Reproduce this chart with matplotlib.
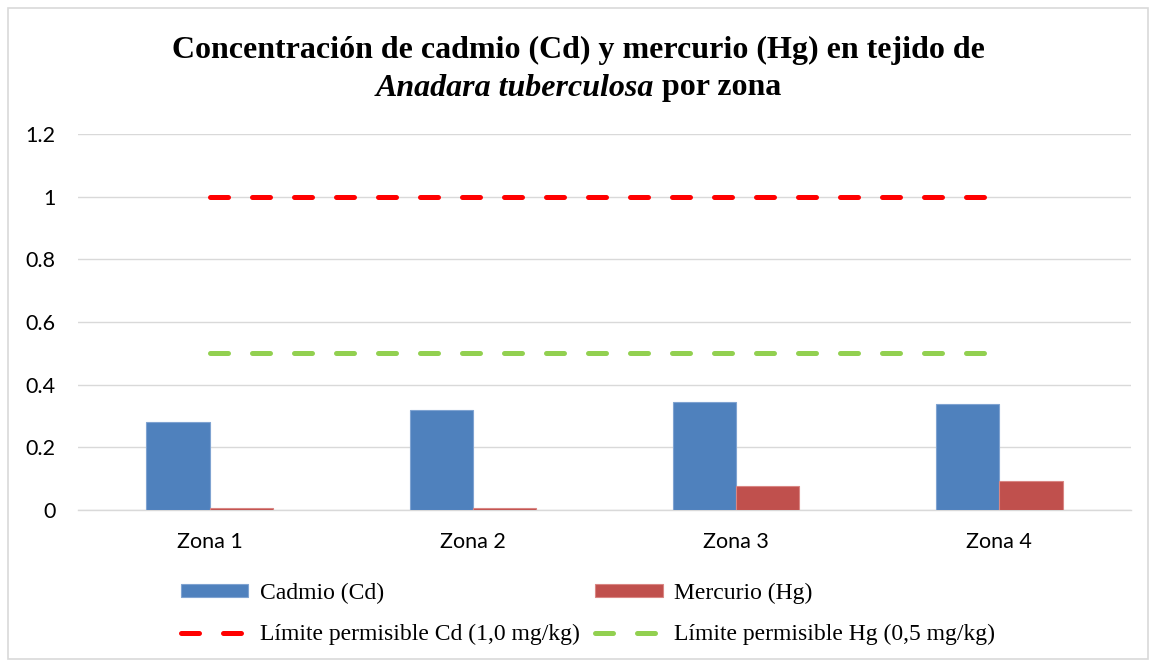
import numpy as np
import matplotlib
matplotlib.use('Agg')
import matplotlib.pyplot as plt
from matplotlib.patches import Rectangle

# data
zonas = ['Zona 1', 'Zona 2', 'Zona 3', 'Zona 4']
cadmio = [0.281, 0.320, 0.345, 0.339]
mercurio = [0.005, 0.005, 0.077, 0.093]
limite_cd = [1.0, 1.0, 1.0, 1.0]
limite_hg = [0.5, 0.5, 0.5, 0.5]
y_ticks = [0, 0.2, 0.4, 0.6, 0.8, 1, 1.2]
y_tick_labels = ['0', '0.2', '0.4', '0.6', '0.8', '1', '1.2']

W, H = 1157, 665
fig = plt.figure(figsize=(W / 100, H / 100), dpi=100)
ax = fig.add_axes([78 / W, 1 - 510 / H, (1131 - 78) / W, (510 - 134) / H])

x = np.arange(len(zonas))
bw = 0.24
ax.bar(x - bw / 2, cadmio, bw, color='#4f81bd', edgecolor='#7fa3d1', linewidth=0.8,
       label='Cadmio (Cd)', zorder=3)
ax.bar(x + bw / 2, mercurio, bw, color='#c0504d', edgecolor='#d98683', linewidth=0.8,
       label='Mercurio (Hg)', zorder=3)

lw = 3.6
l_cd, = ax.plot(x, limite_cd, color='#ff0000', lw=lw, dashes=(3.6, 4.8),
                dash_capstyle='round', label='Límite permisible Cd (1,0 mg/kg)', zorder=4)
l_hg, = ax.plot(x, limite_hg, color='#92d050', lw=lw, dashes=(3.6, 4.8),
                dash_capstyle='round', label='Límite permisible Hg (0,5 mg/kg)', zorder=4)

ax.set_xlim(-0.5, 3.5)
ax.set_ylim(0, 1.2)
ax.set_yticks(y_ticks)
ax.set_yticklabels(y_tick_labels)
ax.set_xticks(x)
ax.set_xticklabels(zonas)
ax.grid(axis='y', color='#d9d9d9', lw=1.0, zorder=0)
for s in ['top', 'right', 'left']:
    ax.spines[s].set_visible(False)
ax.spines['bottom'].set_color('#d9d9d9')
ax.spines['bottom'].set_linewidth(1.0)
ax.tick_params(length=0, labelsize=15.5, colors='black')
ax.tick_params(axis='y', pad=16)
ax.tick_params(axis='x', pad=16)
for t in ax.get_xticklabels() + ax.get_yticklabels():
    t.set_family('Lato')

# legend, two rows
h, l = ax.get_legend_handles_labels()
order = [2, 0, 3, 1]
h = [h[i] for i in order]
l = [l[i] for i in order]
leg = fig.legend(h, l, ncol=2, loc='center left', bbox_to_anchor=(181 / W, 1 - 614 / H),
                 frameon=False, borderpad=0, borderaxespad=0,
                 prop={'family': 'Liberation Serif', 'size': 17},
                 handlelength=2.85, handleheight=0.5, handletextpad=0.5,
                 columnspacing=0.65, labelspacing=0.85)

# title, second line mixes italic and roman
fig.text(0.5, 1 - 50 / H, 'Concentración de cadmio (Cd) y mercurio (Hg) en tejido de',
         ha='center', va='center', family='Liberation Serif', weight='bold', size=23)
t1 = fig.text(0.5, 1 - 88 / H, 'Anadara tuberculosa', ha='left', va='center',
              family='Liberation Serif', weight='bold', style='italic', size=23)
t2 = fig.text(0.5, 1 - 88 / H, ' por zona', ha='left', va='center',
              family='Liberation Serif', weight='bold', size=23)
r = fig.canvas.get_renderer()
w1 = t1.get_window_extent(r).width
w2 = t2.get_window_extent(r).width
x0 = (W - (w1 + w2)) / 2
t1.set_x(x0 / W)
t2.set_x((x0 + w1) / W)

# chart border
fig.patches.append(Rectangle((8 / W, 1 - 659 / H), (1148 - 8) / W, (659 - 8) / H,
                             transform=fig.transFigure, fill=False,
                             edgecolor='#d9d9d9', lw=1.2))

fig.savefig('out.png', dpi=100)
